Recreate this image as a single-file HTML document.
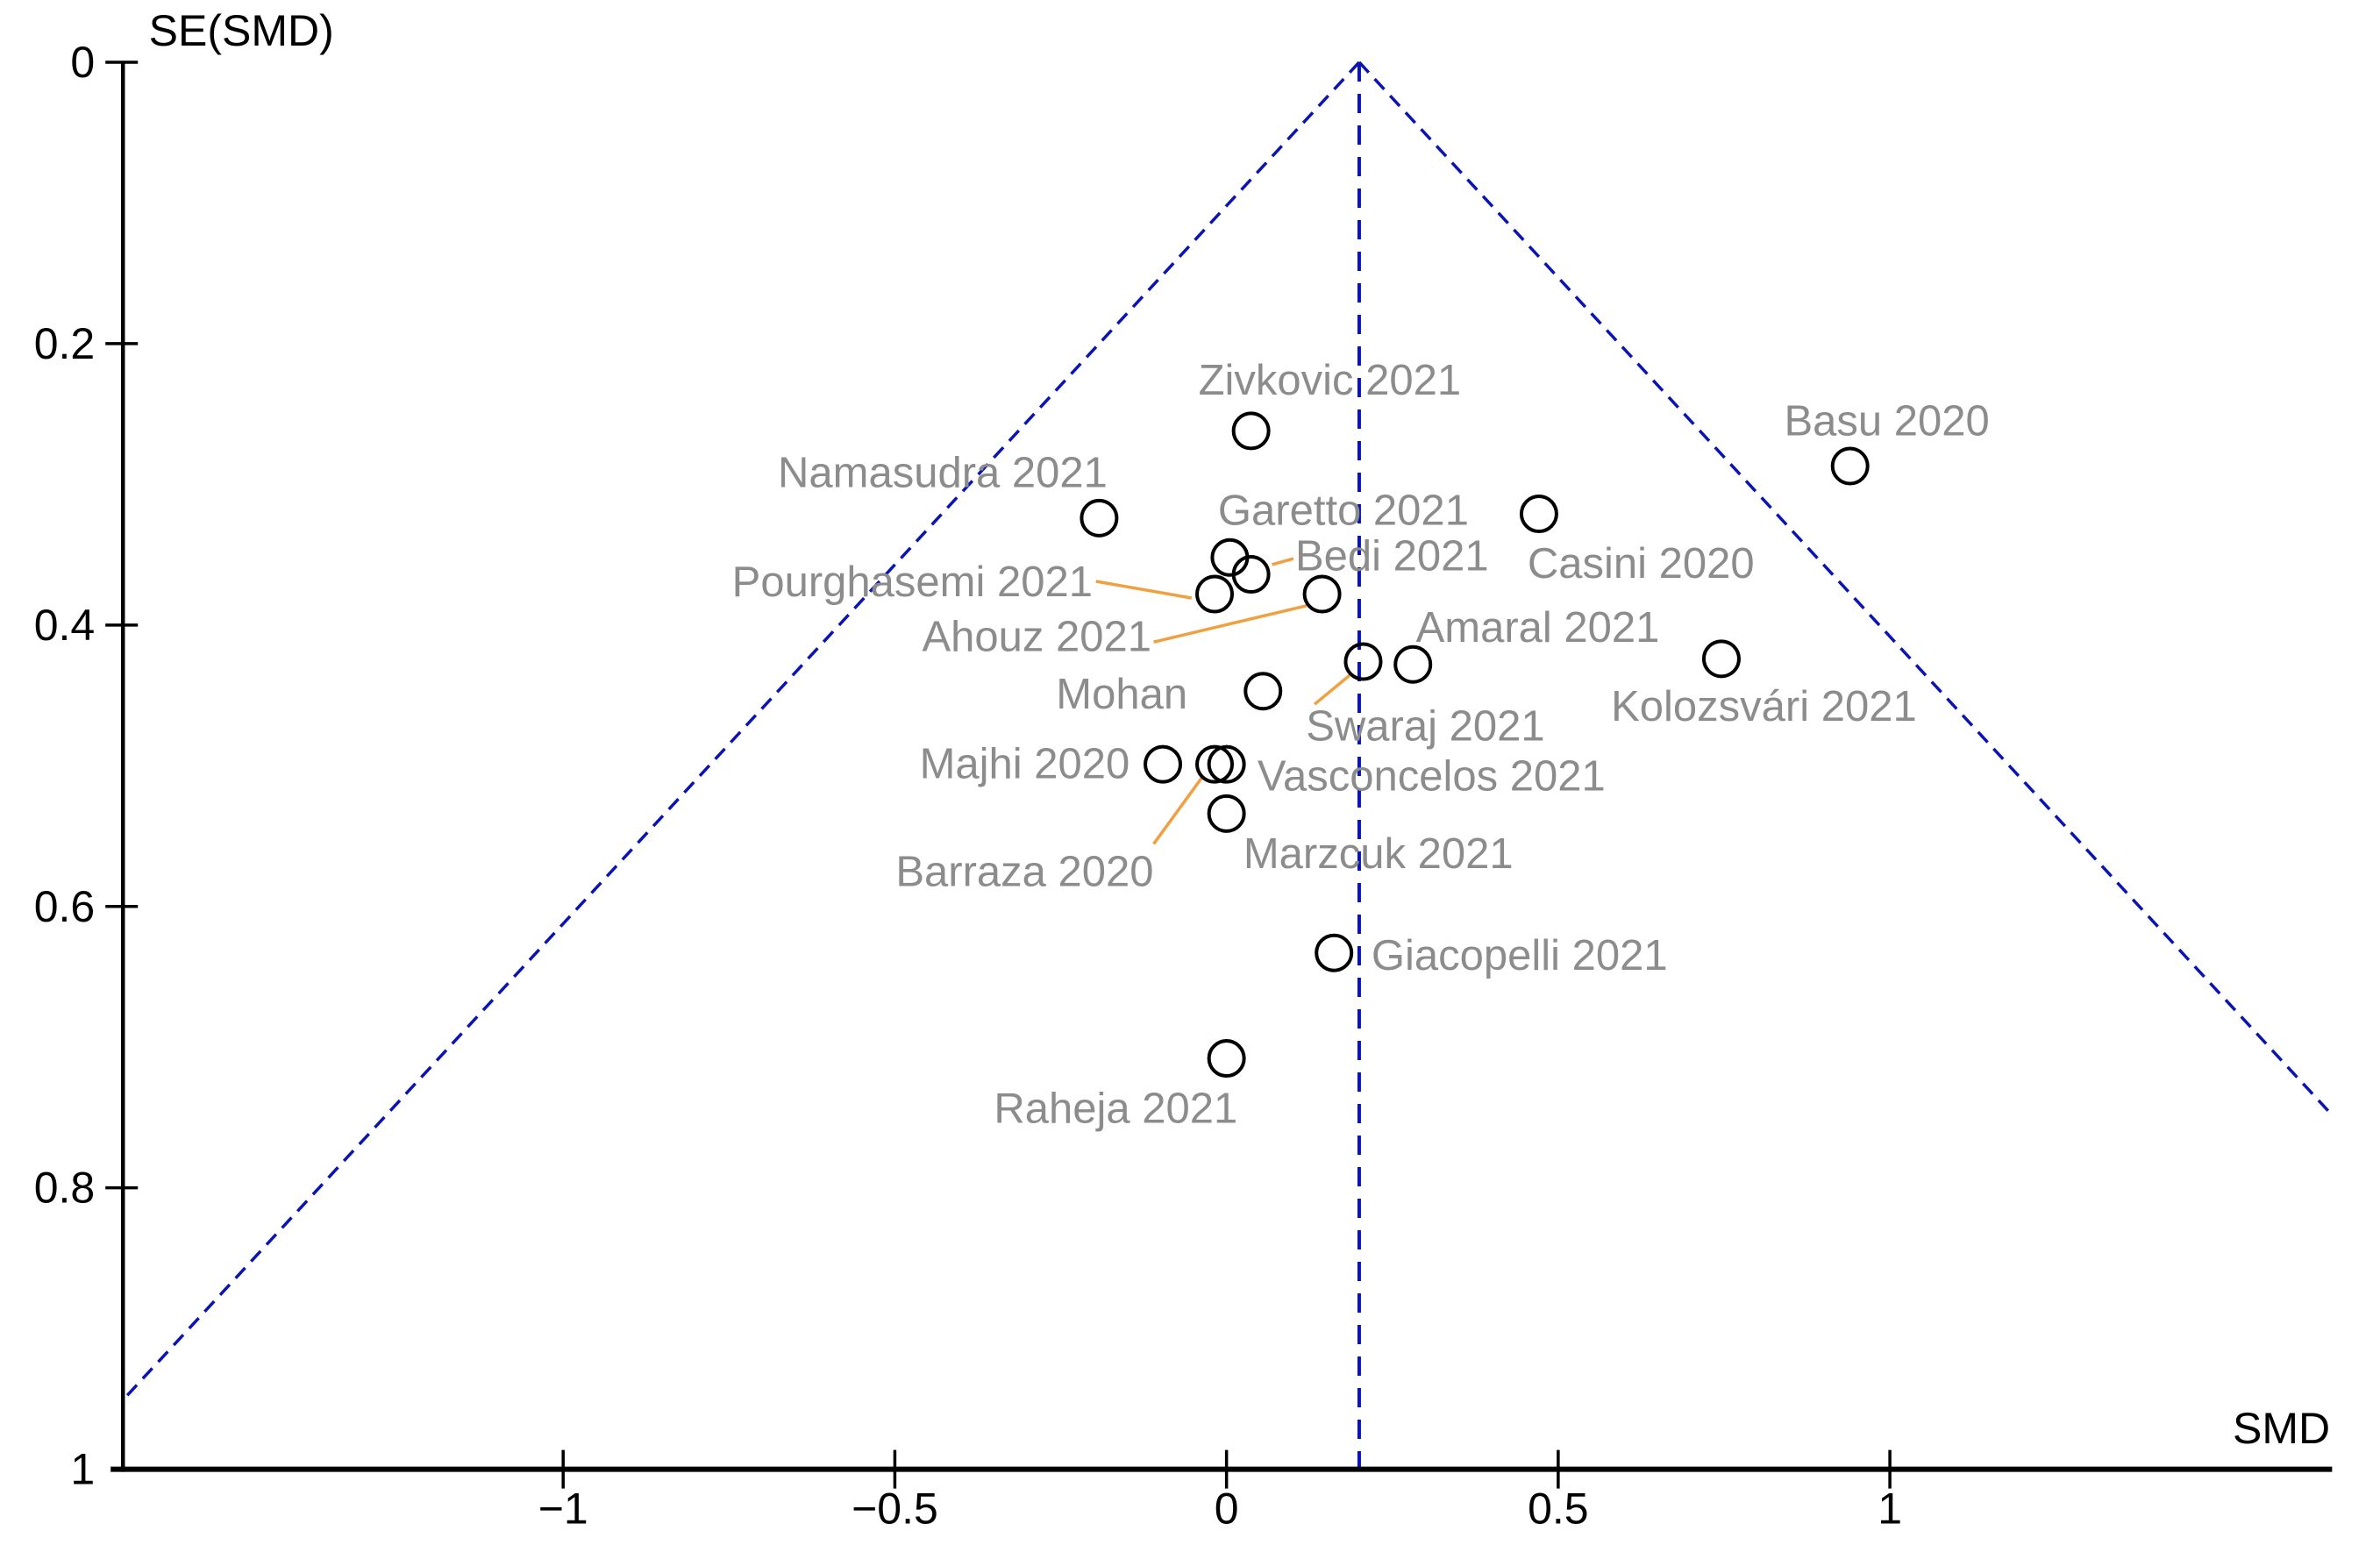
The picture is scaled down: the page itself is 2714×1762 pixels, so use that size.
<!DOCTYPE html>
<html><head><meta charset="utf-8">
<style>
html,body{margin:0;padding:0;background:#fff;}
svg{display:block;}
text{font-family:"Liberation Sans",sans-serif;}
</style></head>
<body>
<svg id="chart" width="2714" height="1762" viewBox="0 0 2714 1762" xmlns="http://www.w3.org/2000/svg"></svg>
<script>
const studies = ["Zivkovic 2021","Basu 2020","Namasudra 2021","Casini 2020","Garetto 2021","Bedi 2021","Pourghasemi 2021","Ahouz 2021","Swaraj 2021","Amaral 2021","Kolozsvári 2021","Mohan","Majhi 2020","Barraza 2020","Vasconcelos 2021","Marzcuk 2021","Giacopelli 2021","Raheja 2021"];
const smd = [0.037,0.940,-0.192,0.471,0.005,0.037,-0.018,0.144,0.206,0.281,0.746,0.055,-0.096,-0.018,0.0,0.0,0.162,0.0];
const se = [0.262,0.287,0.324,0.321,0.352,0.364,0.378,0.378,0.426,0.428,0.424,0.447,0.499,0.499,0.499,0.534,0.633,0.708];
const pooled = 0.2;
const xTicks = [-1,-0.5,0,0.5,1];
const xTickLabels = ["\u22121","\u22120.5","0","0.5","1"];
const yTicks = [0,0.2,0.4,0.6,0.8,1];
const yTickLabels = ["0","0.2","0.4","0.6","0.8","1"];
</script>
<script>
const S = 1.731;
const svg = document.getElementById('chart');
const NS = 'http://www.w3.org/2000/svg';
const X0 = 808*S, XU = 437*S, Y0 = 41*S, YU = 927*S;
const xMin = -1.664, xMax = 1.664;
function px(v){return X0 + XU*v;}
function py(s){return Y0 + YU*s;}
function mk(tag, attrs, parent){const e=document.createElementNS(NS,tag);for(const k in attrs)e.setAttribute(k,attrs[k]);(parent||svg).appendChild(e);return e;}

const fl = mk('line',{x1:px(pooled),y1:py(0),x2:px(xMin),y2:py((pooled-xMin)/1.96),stroke:'#0a14b4','stroke-width':3.5,'stroke-dasharray':'16 10'});


const fr = mk('line',{x1:px(pooled),y1:py(0),x2:px(xMax),y2:py((xMax-pooled)/1.96),stroke:'#0a14b4','stroke-width':3.5,'stroke-dasharray':'16 10'});


const fv = mk('line',{x1:px(pooled),y1:py(0),x2:px(pooled),y2:py(1),stroke:'#0a14b4','stroke-width':4,'stroke-dasharray':'22 14'});



const AX = 81*S;
const ya = mk('line',{x1:AX,y1:py(0),x2:AX,y2:py(1)+3,stroke:'#000','stroke-width':4.5});


const xa = mk('line',{x1:AX-14,y1:py(1),x2:px(xMax)+2,y2:py(1),stroke:'#000','stroke-width':6});


yTicks.forEach((t,i)=>{
  if(t<1){const l=mk('line',{x1:AX-20,y1:py(t),x2:AX+17,y2:py(t),stroke:'#000','stroke-width':3.5});
  
  }
  const tx=mk('text',{x:AX-32,y:py(t)+17,'text-anchor':'end','font-size':50,fill:'#000'});
  tx.textContent=yTickLabels[i];
  
  
});
xTicks.forEach((t,i)=>{
  const l=mk('line',{x1:px(t),y1:py(1)-22,x2:px(t),y2:py(1)+22,stroke:'#000','stroke-width':3.5});
  
  
  const tx=mk('text',{x:px(t),y:py(1)+62,'text-anchor':'middle','font-size':50,fill:'#000'});
  tx.textContent=xTickLabels[i];
  
  
});
const yt=mk('text',{x:98*S,y:30*S,'font-size':50,fill:'#000'});yt.textContent='SE(SMD)';


const xt=mk('text',{x:1535*S,y:951*S,'text-anchor':'end','font-size':50,fill:'#000'});xt.textContent='SMD';



const leaders=[[722,383,785,394],[852,368,838,372],[760,423,861,399],[866,464,889,445],[760,556,792,512]];
leaders.forEach(a=>{const l=mk('line',{x1:a[0]*S,y1:a[1]*S,x2:a[2]*S,y2:a[3]*S,stroke:'#f0a040','stroke-width':3.5});

});

const labelPos=[[876,250],[1243,277],[621,311],[1081,371],[885,336],[917,366],[601,383],[683,419],[939,478],[1013,413],[1162,465],[739,457],[675,503],[675,574],[943,511],[908,562],[1001,629],[735,730]];
studies.forEach((n,i)=>{
  const t=mk('text',{x:labelPos[i][0]*S,y:labelPos[i][1]*S+17,'text-anchor':'middle','font-size':49,fill:'#8c8c8c'});
  t.textContent=n;
  
  
});
studies.forEach((n,i)=>{
  const c=mk('circle',{cx:px(smd[i]),cy:py(se[i]),r:20,fill:'none',stroke:'#000','stroke-width':4});
  
  
});
</script>
</body></html>
